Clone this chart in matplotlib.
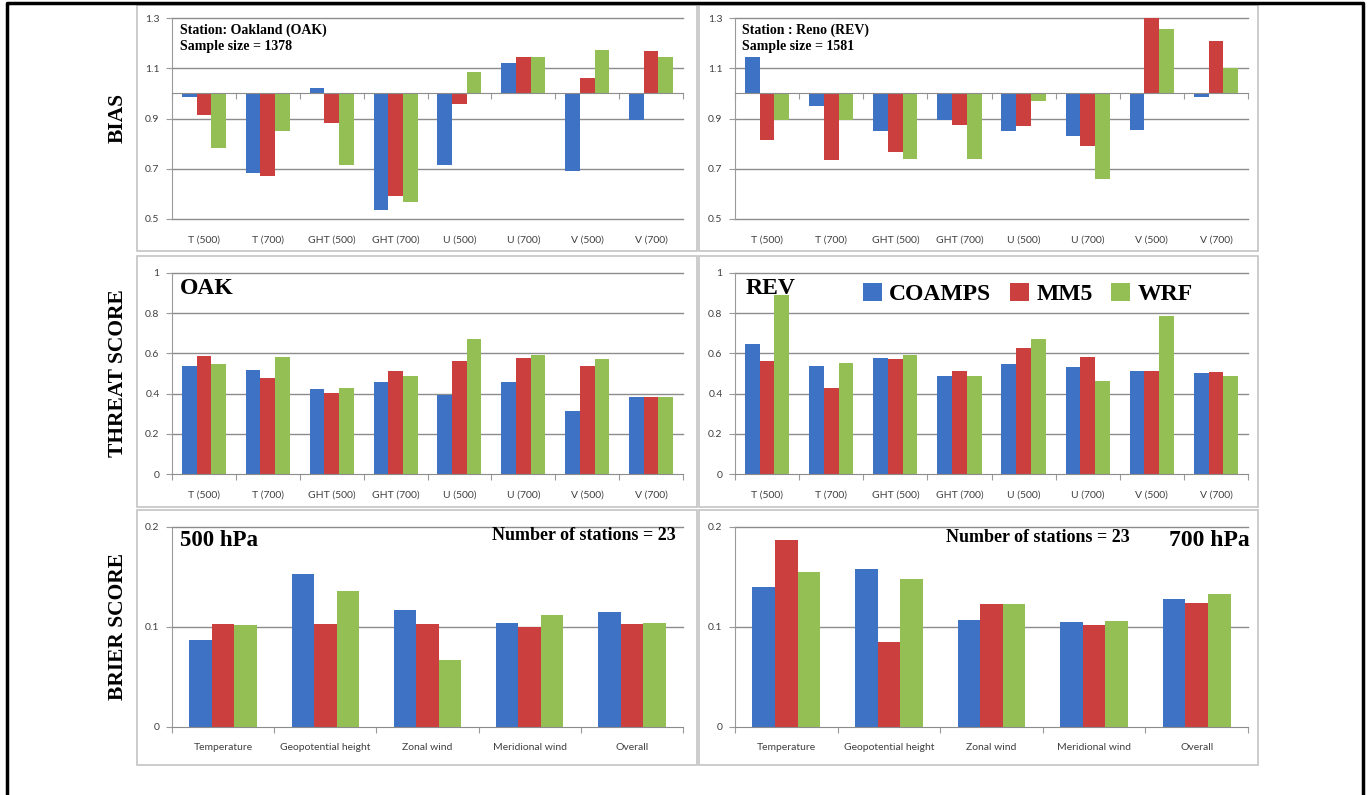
import matplotlib.pyplot as plt
from matplotlib.patches import Rectangle
from matplotlib.lines import Line2D
import numpy as np

models = ['COAMPS', 'MM5', 'WRF']
colors = ['#3d72c4', '#cc3f3f', '#93bf55']

var_labels = ['T (500)', 'T (700)', 'GHT (500)', 'GHT (700)',
              'U (500)', 'U (700)', 'V (500)', 'V (700)']
brier_labels = ['Temperature', 'Geopotential height', 'Zonal wind',
                'Meridional wind', 'Overall']

# bias, Oakland
bias_oak_coamps = [0.985, 0.683, 1.020, 0.534, 0.716, 1.122, 0.690, 0.895]
bias_oak_mm5 = [0.913, 0.672, 0.882, 0.593, 0.958, 1.143, 1.061, 1.170]
bias_oak_wrf = [0.783, 0.849, 0.716, 0.566, 1.086, 1.143, 1.174, 1.143]

# bias, Reno
bias_rev_coamps = [1.143, 0.951, 0.849, 0.895, 0.849, 0.829, 0.856, 0.986]
bias_rev_mm5 = [0.816, 0.736, 0.768, 0.873, 0.869, 0.789, 1.300, 1.207]
bias_rev_wrf = [0.893, 0.893, 0.739, 0.739, 0.968, 0.659, 1.256, 1.101]

# threat score
ts_oak_coamps = [0.538, 0.515, 0.424, 0.460, 0.394, 0.460, 0.311, 0.385]
ts_oak_mm5 = [0.585, 0.480, 0.402, 0.513, 0.560, 0.576, 0.538, 0.385]
ts_oak_wrf = [0.548, 0.581, 0.430, 0.490, 0.673, 0.593, 0.570, 0.385]

ts_rev_coamps = [0.646, 0.538, 0.576, 0.490, 0.548, 0.530, 0.510, 0.502]
ts_rev_mm5 = [0.560, 0.430, 0.571, 0.513, 0.626, 0.581, 0.513, 0.505]
ts_rev_wrf = [0.892, 0.551, 0.593, 0.490, 0.671, 0.463, 0.784, 0.490]

# brier score, all 23 stations
bs500_coamps = [0.087, 0.153, 0.117, 0.104, 0.115]
bs500_mm5 = [0.103, 0.103, 0.103, 0.100, 0.103]
bs500_wrf = [0.102, 0.136, 0.067, 0.112, 0.104]

bs700_coamps = [0.140, 0.158, 0.107, 0.105, 0.128]
bs700_mm5 = [0.187, 0.085, 0.123, 0.102, 0.124]
bs700_wrf = [0.155, 0.148, 0.123, 0.106, 0.133]

W, H = 1369, 795
SERIF = 'Liberation Serif'
SANS = 'Lato'


def px_axes(left, top, right, bottom):
    return fig.add_axes([left / W, 1 - bottom / H, (right - left) / W, (bottom - top) / H])


def bar_panel(ax, labels, series, ylim, yticks, yticklabels, base=0.0, width=0.23):
    x = np.arange(len(labels))
    for k, (vals, c, name) in enumerate(zip(series, colors, models)):
        v = np.asarray(vals)
        ax.bar(x + (k - 1) * width, v - base, width, bottom=base,
               color=c, zorder=3, label=name)
    ax.set_xlim(-0.5, len(labels) - 0.5)
    ax.set_ylim(*ylim)
    ax.set_yticks(yticks)
    ax.set_yticklabels(yticklabels, fontfamily=SANS, fontsize=7.5, color='#404040')
    # horizontal gridlines, unclipped so the ones on the limits stay full width
    for yv in yticks:
        if yv != base:
            ax.axhline(yv, color='#8c8c8c', lw=1.0, zorder=1, clip_on=False)
    for s in ['top', 'right']:
        ax.spines[s].set_visible(False)
    ax.spines['left'].set_color('#9a9a9a')
    ax.spines['bottom'].set_color('#8c8c8c')
    ax.spines['bottom'].set_position(('data', base))
    ax.spines['bottom'].set_zorder(4)
    ax.set_xticks(np.arange(len(labels) + 1) - 0.5)
    ax.set_xticklabels([])
    ax.tick_params(axis='both', length=4, color='#9a9a9a', direction='out', pad=5)
    for i, lab in enumerate(labels):
        ax.annotate(lab, xy=(i, 0), xycoords=('data', 'axes fraction'),
                    xytext=(0, -21), textcoords='offset pixels',
                    ha='center', va='center', fontfamily=SANS,
                    fontsize=7.5, color='#404040')


fig = plt.figure(figsize=(W / 100, H / 100), dpi=100)

# outer frame, open at the bottom
fig.add_artist(Line2D([7 / W, 7 / W, 1363 / W, 1363 / W],
                      [0, 1 - 3 / H, 1 - 3 / H, 0],
                      transform=fig.transFigure, color='black', lw=2.5))

# panel boxes
for (l, t, r, b) in [(137, 5, 697, 251), (699, 5, 1258, 251),
                     (137, 256, 697, 507), (699, 256, 1258, 507),
                     (137, 510, 697, 765), (699, 510, 1258, 765)]:
    fig.add_artist(Rectangle((l / W, 1 - b / H), (r - l) / W, (b - t) / H,
                             transform=fig.transFigure, fill=False,
                             edgecolor='#c4c4c4', lw=1.2))

bias_ticks = [0.5, 0.7, 0.9, 1.1, 1.3]
bias_tl = ['0.5', '0.7', '0.9', '1.1', '1.3']
ts_ticks = [0, 0.2, 0.4, 0.6, 0.8, 1.0]
ts_tl = ['0', '0.2', '0.4', '0.6', '0.8', '1']
bs_ticks = [0, 0.1, 0.2]
bs_tl = ['0', '0.1', '0.2']

ax1 = px_axes(172, 18, 683, 219)
bar_panel(ax1, var_labels, [bias_oak_coamps, bias_oak_mm5, bias_oak_wrf],
          (0.5, 1.3), bias_ticks, bias_tl, base=1.0)
ax2 = px_axes(735, 18, 1248, 219)
bar_panel(ax2, var_labels, [bias_rev_coamps, bias_rev_mm5, bias_rev_wrf],
          (0.5, 1.3), bias_ticks, bias_tl, base=1.0)

ax3 = px_axes(172, 273, 683, 474)
bar_panel(ax3, var_labels, [ts_oak_coamps, ts_oak_mm5, ts_oak_wrf],
          (0, 1.0), ts_ticks, ts_tl)
ax4 = px_axes(735, 273, 1248, 474)
bar_panel(ax4, var_labels, [ts_rev_coamps, ts_rev_mm5, ts_rev_wrf],
          (0, 1.0), ts_ticks, ts_tl)

ax5 = px_axes(172, 527, 683, 727)
bar_panel(ax5, brier_labels, [bs500_coamps, bs500_mm5, bs500_wrf],
          (0, 0.2), bs_ticks, bs_tl, width=0.22)
ax6 = px_axes(735, 527, 1248, 727)
bar_panel(ax6, brier_labels, [bs700_coamps, bs700_mm5, bs700_wrf],
          (0, 0.2), bs_ticks, bs_tl, width=0.22)

bold = dict(fontfamily=SERIF, fontweight='bold', color='black', zorder=6)

ax1.text(0.016, 0.94, 'Station: Oakland (OAK)', transform=ax1.transAxes,
         fontsize=10, va='center', **bold)
ax1.text(0.016, 0.856, 'Sample size = 1378', transform=ax1.transAxes,
         fontsize=10, va='center', **bold)
ax2.text(0.014, 0.94, 'Station : Reno (REV)', transform=ax2.transAxes,
         fontsize=10, va='center', **bold)
ax2.text(0.014, 0.856, 'Sample size = 1581', transform=ax2.transAxes,
         fontsize=10, va='center', **bold)

ax3.text(0.016, 0.925, 'OAK', transform=ax3.transAxes, fontsize=17, va='center', **bold)
ax4.text(0.02, 0.925, 'REV', transform=ax4.transAxes, fontsize=17, va='center', **bold)
ax4.legend(loc='center', bbox_to_anchor=(0.571, 0.896), ncol=3, frameon=False,
           prop=dict(family=SERIF, weight='bold', size=17),
           handlelength=0.8, handleheight=0.8, handletextpad=0.3,
           columnspacing=0.8)

ax5.text(0.016, 0.93, '500 hPa', transform=ax5.transAxes, fontsize=16.5, va='center', **bold)
ax5.text(0.986, 0.955, 'Number of stations = 23', transform=ax5.transAxes,
         fontsize=13, va='center', ha='right', **bold)
ax6.text(0.411, 0.95, 'Number of stations = 23', transform=ax6.transAxes,
         fontsize=13, va='center', ha='left', **bold)
ax6.text(1.004, 0.93, '700 hPa', transform=ax6.transAxes, fontsize=17,
         va='center', ha='right', **bold)

# row titles
for label, yc in [('BIAS', 118), ('THREAT SCORE', 373), ('BRIER SCORE', 627)]:
    fig.text(118 / W, 1 - yc / H, label, rotation=90, ha='center', va='center',
             fontfamily=SERIF, fontweight='bold', fontsize=15.5)

fig.savefig('out.png', dpi=100)
